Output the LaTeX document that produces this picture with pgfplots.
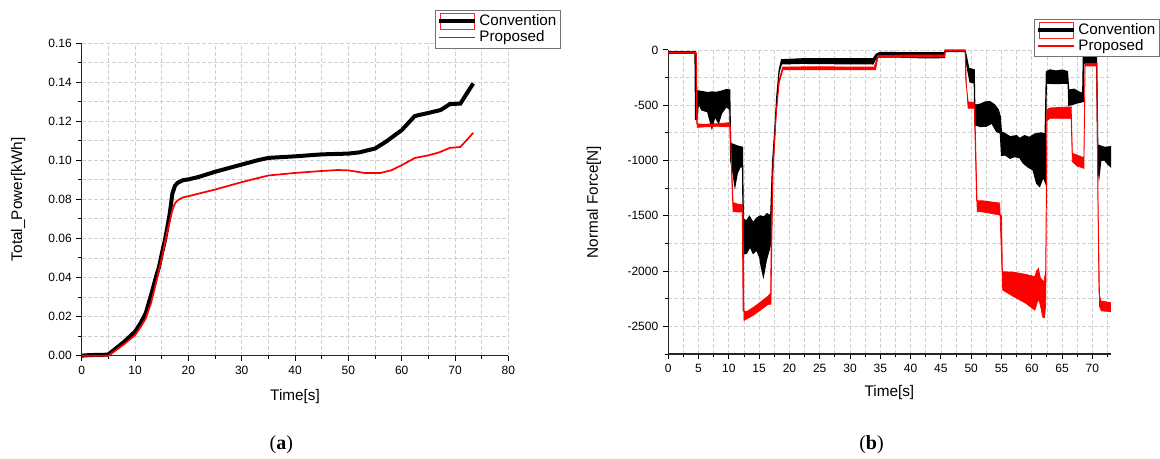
\documentclass[border=0pt]{standalone}
\usepackage{fontspec}
\setmainfont{Liberation Sans}
\newfontfamily\capfont{Liberation Serif}
\usepackage{pgfplots}
\pgfplotsset{compat=1.18}

\pgfplotsset{
  originstyle/.style={
    scale only axis,
    axis x line*=bottom, axis y line*=left,
    tick align=outside,
    major tick length=4pt, minor tick length=2.5pt,
    every tick/.style={black, line width=0.7pt},
    axis line style={black!85, line width=0.9pt},
    grid=both,
    major grid style={dash pattern=on 3pt off 1.5pt, black!18, line width=0.6pt},
    minor grid style={dash pattern=on 3pt off 1.5pt, black!18, line width=0.6pt},
    tick label style={font=\fontsize{9}{10}\selectfont},
    label style={font=\fontsize{11.5}{13}\selectfont},
    /pgf/number format/assume math mode=true,
    clip=false,
    legend cell align=left,
    legend style={draw=black!55, line width=0.7pt, font=\fontsize{11.4}{12}\selectfont,
      inner sep=1pt, row sep=-1.5pt, anchor=north west,
      /tikz/every even column/.append style={column sep=2pt}},
  },
  convimg/.style={legend image code/.code={
     \draw[red!85, line width=0.5pt] (1pt,-6pt) rectangle (27pt,6pt);
     \draw[black, line width=3pt] (0pt,0pt) -- (27pt,0pt);}},
  propimg/.style={legend image code/.code={
     \draw[red, line width=1.2pt] (0pt,0pt) -- (27pt,0pt);}},
}

\begin{document}
\begin{tikzpicture}
\useasboundingbox (0,0) rectangle (870pt,344.25pt);

% ---------------- (a) ----------------
\begin{axis}[originstyle,
  at={(61.3pt,77.5pt)}, anchor=south west,
  width=320pt, height=234.5pt,
  xmin=0, xmax=80, ymin=0, ymax=0.16,
  xtick={0,10,20,30,40,50,60,70,80},
  minor xtick={5,15,25,35,45,55,65,75},
  ytick={0,0.02,0.04,0.06,0.08,0.10,0.12,0.14,0.16},
  minor ytick={0.01,0.03,0.05,0.07,0.09,0.11,0.13,0.15},
  scaled y ticks=false,
  yticklabel style={/pgf/number format/.cd, fixed, fixed zerofill, precision=2},
  xlabel={Time[s]}, ylabel={Total\_Power[kWh]},
  xlabel style={at={(axis description cs:0.5,-0.132)}, anchor=center},
  ylabel style={at={(axis description cs:-0.149,0.5)}, anchor=center},
  legend style={at={(axis description cs:0.828,1.105)}},
]
\addlegendimage{convimg}\addlegendentry{Convention}
\addlegendimage{propimg}\addlegendentry{Proposed}
\addplot[black, line width=3pt, forget plot] coordinates {
(0,0) (1.5,0.0003) (4.9,0.0005) (6,0.0028) (8,0.0072) (10,0.0123) (11,0.0165)
(12,0.0217) (13,0.031) (14,0.041) (14.5,0.0455) (15,0.052) (15.6,0.0591) (16,0.065)
(16.5,0.0727) (17,0.083) (17.5,0.087) (18,0.0885) (19,0.0898) (20,0.0902) (22,0.0915)
(25,0.0941) (30,0.0978) (33,0.1000) (35,0.1012) (40,0.1020) (45,0.1030) (50,0.1034)
(52,0.1040) (55,0.1060) (57,0.1094) (60,0.1154) (62.4,0.1225) (63,0.1230) (65,0.1242)
(67.3,0.1257) (69,0.1287) (71,0.1290) (73.4,0.1393)
};
\addplot[red, line width=1.3pt, forget plot] coordinates {
(0,0) (5,0) (6,0.002) (8,0.006) (10,0.0105) (11,0.0145) (12,0.019) (13,0.027)
(14,0.038) (15,0.050) (16,0.063) (17,0.0745) (17.5,0.0780) (18,0.0795) (19,0.0810)
(20,0.0816) (25,0.0850) (30,0.0888) (35,0.0922) (40,0.0935) (45,0.0945) (48,0.0950)
(50,0.0948) (53,0.0935) (56,0.0935) (58,0.0948) (60,0.0975) (62.5,0.1012) (65,0.1025)
(67,0.1040) (69,0.1063) (71,0.1068) (73.4,0.1140)
};
\end{axis}

% ---------------- (b) ----------------
\begin{axis}[originstyle,
  at={(501.2pt,78.7pt)}, anchor=south west,
  width=331.7pt, height=228.1pt,
  xmin=0, xmax=73, ymin=-2750, ymax=0,
  xtick={0,5,10,15,20,25,30,35,40,45,50,55,60,65,70},
  minor xtick={2.5,7.5,12.5,17.5,22.5,27.5,32.5,37.5,42.5,47.5,52.5,57.5,62.5,67.5,72.5},
  ytick={-2500,-2000,-1500,-1000,-500,0},
  yticklabels={-2500,-2000,-1500,-1000,-500,0},
  minor ytick={-2750,-2250,-1750,-1250,-750,-250},
  xlabel={Time[s]}, ylabel={Normal Force[N]},
  xlabel style={at={(axis description cs:0.5,-0.128)}, anchor=center},
  ylabel style={at={(axis description cs:-0.168,0.5)}, anchor=center},
  legend style={at={(axis description cs:0.827,1.102)}},
]
\addlegendimage{convimg}\addlegendentry{Convention}
\addlegendimage{propimg}\addlegendentry{Proposed}
% Convention: band envelope (upper edge forward, lower edge backward)
\addplot[draw=black, fill=black, line width=0.8pt, forget plot] coordinates {
(0,-15) (4.5,-15) (4.6,-370) (5.2,-372) (5.8,-378) (6.5,-385) (7.2,-380) (8,-382)
(8.8,-372) (9.6,-358) (10.15,-362) (10.3,-845) (10.8,-855) (11.4,-868) (11.9,-875)
(12.25,-880) (12.4,-1530) (12.9,-1545) (13.4,-1505) (14.0,-1560) (14.6,-1520)
(15.2,-1500) (15.8,-1510) (16.3,-1480) (16.9,-1500) (17.2,-1025) (17.6,-700)
(17.9,-422) (18.3,-181) (18.7,-88) (22,-80) (26,-78) (30,-80) (33.8,-80) (34.3,-40)
(34.9,-22) (40,-25) (45.6,-25) (45.7,-3) (49.0,-3) (49.3,-80) (49.6,-165) (50.5,-180)
(50.6,-500) (51.5,-490) (52.3,-470) (53.1,-467) (53.9,-497) (54.5,-543) (54.8,-600)
(55.0,-740) (55.7,-760) (56.4,-784) (57.5,-775) (58.0,-800) (58.8,-775) (59.6,-790)
(60.5,-760) (61.5,-750) (62.2,-760) (62.4,-196) (63,-180) (64,-190) (65,-182)
(65.9,-195) (66.1,-362) (67,-355) (67.8,-380) (68.4,-392) (68.5,-45) (70.7,-40)
(70.9,-860) (72,-880) (73,-875)
(73,-1055) (72.5,-1030) (72,-995) (71.4,-1000) (71.1,-1150) (70.9,-1050) (70.7,-121)
(68.6,-121) (68.5,-467) (67.5,-480) (66.5,-497) (66.1,-500) (66.0,-301) (64,-305)
(62.4,-301) (62.25,-1200) (61.9,-1150) (61.3,-1236) (60.8,-1206) (60.2,-1085)
(59.4,-1060) (58.6,-1025) (58.0,-975) (57.2,-965) (56.4,-980) (55.6,-950) (55.0,-955)
(54.8,-754) (54.2,-739) (53.4,-663) (52.5,-690) (51.5,-693) (50.6,-678) (50.5,-300)
(49.8,-290) (49.3,-150) (49.0,-15) (45.7,-15) (45.6,-70) (42,-72) (38,-65) (34.9,-65)
(34.3,-75) (33.8,-127) (28,-125) (22,-122) (18.7,-127) (18.3,-200) (17.9,-450)
(17.6,-750) (17.2,-1100) (17.0,-1700) (16.8,-1780) (16.2,-1900) (15.7,-2050)
(15.3,-1950) (15.1,-1880) (14.6,-1810) (14.0,-1840) (13.5,-1780) (12.9,-1840)
(12.4,-1845) (12.25,-1060) (11.9,-1055) (11.4,-1115) (11.0,-1236) (10.6,-1085)
(10.3,-1000) (10.15,-540) (9.6,-512) (8.8,-573) (8.3,-663) (7.7,-603) (7.2,-709)
(6.5,-560) (5.5,-543) (5.0,-482) (4.7,-630) (4.5,-630) (4.4,-30) (0,-30)
};
% Proposed: band envelope
\addplot[draw=red, fill=red, line width=0.6pt, forget plot] coordinates {
(0,-18) (4.55,-18) (4.7,-670) (6,-672) (8,-668) (10.1,-658) (10.25,-700) (10.5,-1100)
(10.7,-1380) (11.5,-1395) (12.2,-1400) (12.35,-2360) (13,-2365) (14,-2330) (15,-2290)
(16.5,-2225) (16.9,-2200) (17.0,-1628) (17.3,-1025) (17.8,-573) (18.3,-271) (18.9,-155)
(25,-152) (30,-155) (34.0,-155) (34.6,-52) (40,-45) (45.6,-45) (45.7,-2) (49.0,-2)
(49.1,-270) (49.5,-470) (50.5,-476) (50.9,-1365) (52,-1365) (54.7,-1385) (55.1,-2005)
(57,-2010) (59,-2030) (60.5,-2050) (60.8,-2000) (61.1,-1975) (61.4,-2060) (62.0,-2100)
(62.3,-2000) (62.5,-540) (63,-525) (66.5,-515) (66.7,-935) (68.6,-975) (68.8,-121)
(70.7,-121) (70.9,-1300) (71.1,-2200) (71.4,-2270) (73,-2285)
(73,-2365) (71.5,-2360) (71.2,-2320) (70.95,-1400) (70.75,-145) (68.8,-145)
(68.6,-1070) (67.5,-1050) (66.7,-1010) (66.5,-618) (63,-618) (62.5,-640) (62.3,-2300)
(62.1,-2420) (61.8,-2415) (61.4,-2300) (61.1,-2250) (60.8,-2300) (60.5,-2352)
(59,-2290) (57,-2230) (55.2,-2171) (55.0,-1495) (52,-1465) (51.0,-1462) (50.6,-528)
(49.5,-528) (49.2,-300) (49.0,-10) (45.7,-10) (45.6,-62) (34.6,-65) (34.2,-180)
(18.9,-180) (18.3,-300) (17.8,-600) (17.3,-1100) (17.1,-1700) (16.95,-2300)
(16.5,-2300) (15,-2360) (14,-2400) (13,-2430) (12.5,-2445) (12.35,-1465) (11.5,-1465)
(10.7,-1462) (10.5,-1200) (10.25,-720) (10.1,-695) (8,-690) (6,-695) (4.8,-700)
(4.65,-30) (0,-30)
};
\end{axis}

\node[font=\capfont\fontsize{15}{16}\selectfont] at (211pt,10.5pt) {(\textbf{a})};
\node[font=\capfont\fontsize{15}{16}\selectfont] at (653.6pt,10.5pt) {(\textbf{b})};
\end{tikzpicture}
\end{document}
